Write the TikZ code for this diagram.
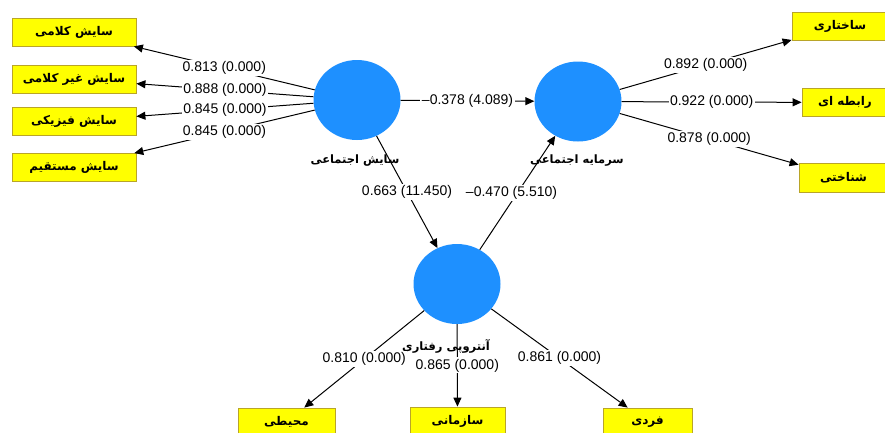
\documentclass[tikz,border=0pt]{standalone}
\usepackage{fontspec}
\setmainfont{Liberation Sans}
\newfontfamily\arabicfont[Script=Arabic]{DejaVu Sans}
\TeXXeTstate=1
\usetikzlibrary{arrows.meta,shapes.geometric}
\definecolor{lvblue}{RGB}{30,144,255}
\definecolor{boxyellow}{RGB}{255,255,0}
\definecolor{boxborder}{RGB}{185,165,40}
\newcommand{\pers}[1]{{\arabicfont\bfseries\beginR #1\endR}}
\begin{document}
\begin{tikzpicture}[x=1pt,y=-1pt,
  latent/.style={ellipse,fill=lvblue,draw=none,minimum width=87pt,minimum height=80pt,inner sep=0pt},
  indic/.style={rectangle,fill=boxyellow,draw=boxborder,line width=0.8pt,minimum height=28pt,inner sep=0pt,font=\fontsize{12}{14}\selectfont},
  lvlabel/.style={inner sep=0pt,font=\fontsize{11.5}{13}\selectfont},
  coef/.style={fill=white,inner sep=1.5pt,font=\fontsize{14}{16}\selectfont},
  link/.style={draw=black,line width=1pt,-{Triangle[length=9pt,width=8pt]}},
]
\useasboundingbox (0,0) rectangle (885,432);
\clip (0,0) rectangle (885,432);

% latent variables
\node[latent] (SA) at (357,100) {};
\node[latent] (SC) at (578,101.5) {};
\node[latent] (BE) at (457,284) {};

% latent labels
\node[lvlabel] (SAl) at (355,161) {\pers{سایش اجتماعی}};
\node[lvlabel] (SCl) at (577,161) {\pers{سرمایه اجتماعی}};
\node[lvlabel] (BEl) at (446,346) {\pers{آنتروپی رفتاری}};

% left indicators
\node[indic,minimum width=124pt] (k1) at (74,32) {\pers{سایش کلامی}};
\node[indic,minimum width=124pt] (k2) at (74,79) {\pers{سایش غیر کلامی}};
\node[indic,minimum width=124pt] (k3) at (74,121) {\pers{سایش فیزیکی}};
\node[indic,minimum width=124pt] (k4) at (74,167.5) {\pers{سایش مستقیم}};

% right indicators
\node[indic,minimum width=96pt] (r1) at (840,26) {\pers{ساختاری}};
\node[indic,minimum width=86pt] (r2) at (845,102.5) {\pers{رابطه ای}};
\node[indic,minimum width=89pt,minimum height=29pt] (r3) at (843.5,177.5) {\pers{شناختی}};

% bottom indicators
\node[indic,minimum width=97pt] (b1) at (286.5,422) {\pers{محیطی}};
\node[indic,minimum width=95pt] (b2) at (457.5,421) {\pers{سازمانی}};
\node[indic,minimum width=89pt] (b3) at (647.5,422) {\pers{فردی}};

% outer loadings
\draw[link] (SA) -- node[coef]{0.813 (0.000)} (k1);
\draw[link] (SA) -- node[coef]{0.888 (0.000)} (k2);
\draw[link] (SA) -- node[coef]{0.845 (0.000)} (k3);
\draw[link] (SA) -- node[coef]{0.845 (0.000)} (k4);

\draw[link] (SC) -- node[coef]{0.892 (0.000)} (r1);
\draw[link] (SC) -- node[coef]{0.922 (0.000)} (r2);
\draw[link] (SC) -- node[coef]{0.878 (0.000)} (r3);

\draw[link] (BE) -- node[coef]{0.810 (0.000)} (b1);
\draw[link] (BE) -- node[coef]{0.865 (0.000)} (b2);
\draw[link] (BE) -- node[coef]{0.861 (0.000)} (b3);

% structural paths
\draw[link] (SA) -- node[coef]{\textendash0.378 (4.089)} (SC);
\draw[link] (SA) -- node[coef]{0.663 (11.450)} (BE);
\draw[link] (BE) -- node[coef,xshift=-6pt]{\textendash0.470 (5.510)} (SC);
\end{tikzpicture}
\end{document}
